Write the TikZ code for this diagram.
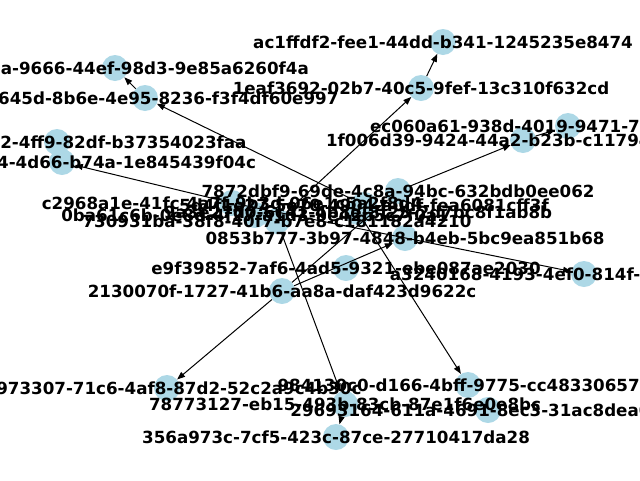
\documentclass[tikz,border=0pt]{standalone}
\usepackage{fontspec}
\setsansfont{DejaVu Sans}
\usetikzlibrary{arrows.meta}
\definecolor{nodeblue}{RGB}{173,216,230}
\begin{document}
\begin{tikzpicture}[x=1pt,y=-1pt,
  dot/.style={circle,fill=nodeblue,minimum size=26pt,inner sep=0pt},
  lbl/.style={font=\fontsize{16.7}{20}\selectfont\sffamily\bfseries,inner sep=0pt},
  arr/.style={-{Triangle[length=8pt,width=6pt]},line width=1pt}]
\useasboundingbox (0,0) rectangle (640,480);
\node[dot](uac1f) at (443,42){};
\node[dot](u9666) at (115,68){};
\node[dot](u645d) at (145,98){};
\node[dot](u1eaf) at (421,88){};
\node[dot](uec06) at (568,126){};
\node[dot](u1f00) at (523,140){};
\node[dot](u4ff9) at (57,142){};
\node[dot](u4d66) at (62,162){};
\node[dot](u7872) at (398,191){};
\node[dot](uc296) at (232,203){};
\node[dot](u0ba6) at (255,215){};
\node[dot](u7309) at (277,221){};
\node[dot](ufea6) at (364,205){};
\node[dot](uc8f1) at (358,212){};
\node[dot](u0853) at (405,238){};
\node[dot](ue9f3) at (346,268){};
\node[dot](u2130) at (282,291){};
\node[dot](ua324) at (584,274){};
\node[dot](u9733) at (167,388){};
\node[dot](u9841) at (468,385){};
\node[dot](u7877) at (345,404){};
\node[dot](u2969) at (488,410){};
\node[dot](u356a) at (336,437){};
\draw[arr](u1eaf)--(uac1f);
\draw[arr](u645d)--(u9666);
\draw[arr](ufea6)--(u645d);
\draw[arr](u7309)--(u1eaf);
\draw[arr](u7872)--(u1f00);
\draw[arr](u1f00)--(uec06);
\draw[arr](uc296)--(u4d66);
\draw[arr](uc296)--(ua324);
\draw[arr](uc8f1)--(u9841);
\draw[arr](u2130)--(u0853);
\draw[arr](u2130)--(u7872);
\draw[arr](u2130)--(u9733);
\draw[arr](u7309)--(u7877);
\draw[arr](u7877)--(u356a);
\node[lbl](tac1f) at (uac1f){ac1ffdf2-fee1-44dd-b341-1245235e8474};
\node[lbl](t9666) at (u9666){5c1e3b7a-9666-44ef-98d3-9e85a6260f4a};
\node[lbl](t645d) at (u645d){e21b645d-8b6e-4e95-8236-f3f4df60e997};
\node[lbl](t1eaf) at (u1eaf){1eaf3692-02b7-40c5-9fef-13c310f632cd};
\node[lbl](tec06) at (uec06){ec060a61-938d-4019-9471-7d2e5a0b9c14};
\node[lbl](t1f00) at (u1f00){1f006d39-9424-44a2-b23b-c11794e8d2a6};
\node[lbl](t4ff9) at (u4ff9){7ad0c3e1-b9a2-4ff9-82df-b37354023faa};
\node[lbl](t4d66) at (u4d66){3e8b1f07-c5d4-4d66-b74a-1e845439f04c};
\node[lbl](t7872) at (u7872){7872dbf9-69de-4c8a-94bc-632bdb0ee062};
\node[lbl](tc296) at (uc296){c2968a1e-41fc-4a7f-9b3d-06e1c5a2f8d4};
\node[lbl](t0ba6) at (u0ba6){0ba61c6b-0e8d-4f27-a1d3-9e42b5c7f0a1};
\node[lbl](t7309) at (u7309){730931ba-38f8-40f7-b7e8-c181182a4210};
\node[lbl](tfea6) at (ufea6){5d4f1e27-5e70-4904-a0df-fea6081cff3f};
\node[lbl](tc8f1) at (uc8f1){9a3e27d0-6c41-4b8e-8f25-2d7bc8f1ab8b};
\node[lbl](t0853) at (u0853){0853b777-3b97-4848-b4eb-5bc9ea851b68};
\node[lbl](te9f3) at (ue9f3){e9f39852-7af6-4ad5-9321-ebe087ae2030};
\node[lbl](t2130) at (u2130){2130070f-1727-41b6-aa8a-daf423d9622c};
\node[lbl](ta324) at (ua324){a3240168-4193-4ef0-814f-6b2d9e07c3a5};
\node[lbl](t9733) at (u9733){d2973307-71c6-4af8-87d2-52c2a9c4b30c};
\node[lbl](t9841) at (u9841){984130c0-d166-4bff-9775-cc483306577f};
\node[lbl](t7877) at (u7877){78773127-eb15-493b-83cb-87e1f6e0e8bc};
\node[lbl](t2969) at (u2969){29693164-611a-4691-8ec3-31ac8dea0b52};
\node[lbl](t356a) at (u356a){356a973c-7cf5-423c-87ce-27710417da28};
\end{tikzpicture}
\end{document}
